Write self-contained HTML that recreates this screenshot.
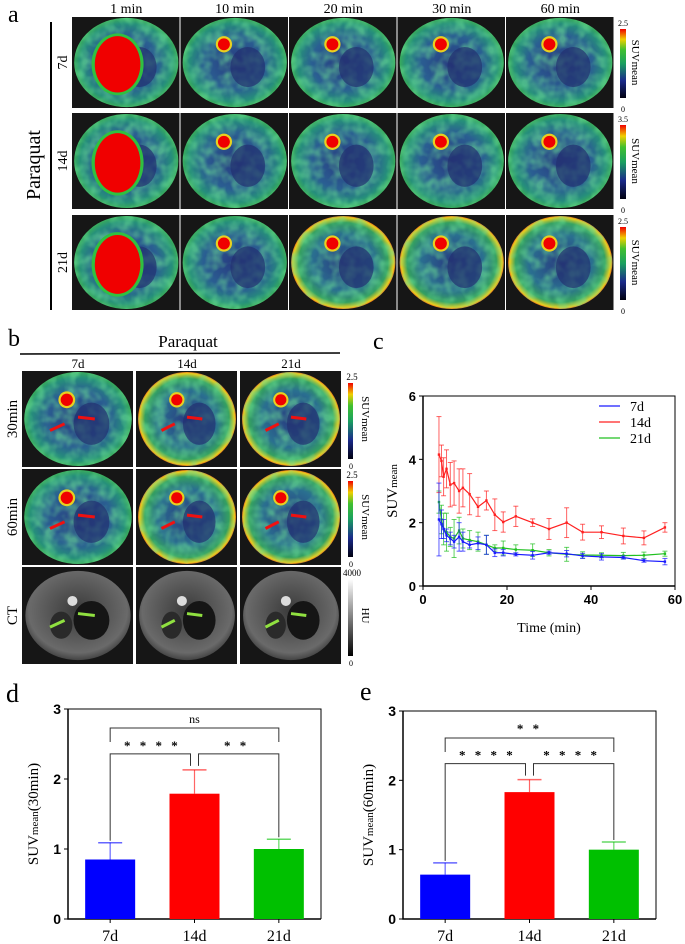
<!DOCTYPE html>
<html><head><meta charset="utf-8">
<style>
html,body{margin:0;padding:0;background:#fff;}
body{width:685px;height:944px;position:relative;overflow:hidden;font-family:"Liberation Serif",serif;}
svg{position:absolute;left:0;top:0;}
</style></head>
<body>
<svg id="fig" width="685" height="944" viewBox="0 0 685 944" xmlns="http://www.w3.org/2000/svg">
<defs>
<radialGradient id="pet" cx="50%" cy="50%" r="55%">
<stop offset="0%" stop-color="#283a80"/><stop offset="55%" stop-color="#2a5f92"/><stop offset="80%" stop-color="#26907a"/><stop offset="95%" stop-color="#3fb550"/><stop offset="100%" stop-color="#2a4f7a"/>
</radialGradient>
<radialGradient id="pethot" cx="50%" cy="50%" r="55%">
<stop offset="0%" stop-color="#283a80"/><stop offset="55%" stop-color="#2a6f90"/><stop offset="78%" stop-color="#34a060"/><stop offset="88%" stop-color="#e8d020"/><stop offset="94%" stop-color="#f01010"/><stop offset="100%" stop-color="#3a7a50"/>
</radialGradient>
<radialGradient id="ctg" cx="50%" cy="45%" r="55%">
<stop offset="0%" stop-color="#3a3a3a"/><stop offset="85%" stop-color="#6a6a6a"/><stop offset="100%" stop-color="#444"/>
</radialGradient>
<linearGradient id="cbar" x1="0" y1="1" x2="0" y2="0">
<stop offset="0%" stop-color="#000010"/><stop offset="25%" stop-color="#1a2a8a"/><stop offset="50%" stop-color="#1aa060"/><stop offset="70%" stop-color="#40c030"/><stop offset="85%" stop-color="#f0d000"/><stop offset="100%" stop-color="#f00000"/>
</linearGradient>
<linearGradient id="gbar" x1="0" y1="1" x2="0" y2="0">
<stop offset="0%" stop-color="#000"/><stop offset="100%" stop-color="#fff"/>
</linearGradient>
<filter id="noise" x="0" y="0" width="100%" height="100%">
<feTurbulence type="fractalNoise" baseFrequency="0.09" numOctaves="2" seed="3" result="t"/>
<feColorMatrix in="t" type="matrix" values="0 0 0 0 0.15  0 0 0 0 0.75  0 0 0 0 0.3  0 0 0 -2.2 1.45"/>
</filter>
</defs>
<g id="panelA">
<text x="8" y="22" font-size="24">a</text>
<line x1="51" y1="22" x2="51" y2="310" stroke="#000" stroke-width="2"/>
<text transform="translate(40,165) rotate(-90)" text-anchor="middle" font-size="20">Paraquat</text>
</g>
<g id="panelB">
<text x="8" y="346" font-size="24">b</text>
<text x="188" y="347" text-anchor="middle" font-size="17">Paraquat</text>
<line x1="20" y1="354" x2="340" y2="353" stroke="#000" stroke-width="1.5"/>
</g>
<g id="panelC">
<text x="373" y="349" font-size="24">c</text>
</g>
<g id="panelD">
<text x="6" y="702" font-size="26">d</text>
</g>
<g id="panelE">
<text x="360" y="700" font-size="26">e</text>
</g>
</svg>
<script>
const NS='http://www.w3.org/2000/svg';
const svg=document.getElementById('fig');
function mk(tag,attrs,parent){const e=document.createElementNS(NS,tag);for(const k in attrs)e.setAttribute(k,attrs[k]);(parent||svg).appendChild(e);return e;}
let clipId=0;

// ---------- Panel A: PET tiles ----------
const aCols=['1 min','10 min','20 min','30 min','60 min'];
const aRows=['7d','14d','21d'];
const aRowScale=['2.5','3.5','2.5'];
const gA=document.getElementById('panelA');
const aX0=72,aW=108.5,aY=[17,113,215],aH=[91,96,95];
aCols.forEach((c,i)=>{const t=mk('text',{x:aX0+aW*i+aW/2,y:13,'text-anchor':'middle','font-size':14},gA);t.textContent=c;

});
function tile(g,x,y,w,h,type,hot,blob,name){
 const grp=mk('g',{},g);
 
 
 mk('rect',{x:x,y:y,width:w-1,height:h,fill:'#161616'},grp);
 if(type==='ct'){
  mk('ellipse',{cx:x+w/2,cy:y+h*0.5,rx:w*0.47,ry:h*0.46,fill:'url(#ctg)'},grp);
  mk('ellipse',{cx:x+w*0.62,cy:y+h*0.55,rx:w*0.16,ry:h*0.2,fill:'#151515'},grp);
  mk('ellipse',{cx:x+w*0.35,cy:y+h*0.6,rx:w*0.1,ry:h*0.14,fill:'#2a2a2a'},grp);
  mk('circle',{cx:x+w*0.45,cy:y+h*0.35,r:5,fill:'#ddd'},grp);
  return grp;
 }
 const id='c'+(clipId++);
 const cp=mk('clipPath',{id:id},grp);
 mk('ellipse',{cx:x+w/2,cy:y+h*0.5,rx:w*0.48,ry:h*0.49},cp);
 mk('ellipse',{cx:x+w/2,cy:y+h*0.5,rx:w*0.48,ry:h*0.49,fill:hot?'url(#pethot)':'url(#pet)'},grp);
 mk('rect',{x:x,y:y,width:w,height:h,filter:'url(#noise)','clip-path':`url(#${id})`,opacity:0.55},grp);
 mk('ellipse',{cx:x+w*0.62,cy:y+h*0.55,rx:w*0.16,ry:h*0.22,fill:'#223070',opacity:0.7},grp);
 if(blob==='big'){
  mk('ellipse',{cx:x+w*0.42,cy:y+h*0.52,rx:w*0.24,ry:h*0.34,fill:'#30c040'},grp);
  mk('ellipse',{cx:x+w*0.42,cy:y+h*0.52,rx:w*0.21,ry:h*0.31,fill:'#f00000'},grp);
 }else{
  mk('circle',{cx:x+w*0.4,cy:y+h*0.3,r:w*0.075,fill:'#e8d020'},grp);
  mk('circle',{cx:x+w*0.4,cy:y+h*0.3,r:w*0.055,fill:'#f00000'},grp);
 }
 return grp;
}
aRows.forEach((r,ri)=>{
 const t=mk('text',{transform:`translate(67,${aY[ri]+aH[ri]/2}) rotate(-90)`,'text-anchor':'middle','font-size':14},gA);t.textContent=r;
 
 
 aCols.forEach((c,ci)=>{
  tile(gA,aX0+aW*ci,aY[ri],aW,aH[ri],'pet',ri===2&&ci>=2,ci===0?'big':'small','pet-tile-'+r+'-'+ci);
 });
 const cb=mk('rect',{x:620,y:aY[ri]+12,width:6,height:aH[ri]-22,fill:'url(#cbar)'},gA);
 
 
 const top=mk('text',{x:623,y:aY[ri]+9,'text-anchor':'middle','font-size':8},gA);top.textContent=aRowScale[ri];
 const bot=mk('text',{x:623,y:aY[ri]+aH[ri]+4,'text-anchor':'middle','font-size':8},gA);bot.textContent='0';
 const lab=mk('text',{transform:`translate(632,${aY[ri]+aH[ri]/2}) rotate(90)`,'text-anchor':'middle','font-size':11},gA);lab.textContent='SUVmean';
 
 
});

// ---------- Panel B ----------
const gB=document.getElementById('panelB');
const bCols=['7d','14d','21d'];
const bRows=['30min','60min','CT'];
const bX=[22,136,240],bW=[112,102,102],bY=[371,469,567],bH=[96,96,97];
bCols.forEach((c,i)=>{const t=mk('text',{x:bX[i]+bW[i]/2,y:368,'text-anchor':'middle','font-size':13},gB);t.textContent=c;

});
bRows.forEach((r,ri)=>{
 const t=mk('text',{transform:`translate(17,${bY[ri]+bH[ri]/2}) rotate(-90)`,'text-anchor':'middle','font-size':15},gB);t.textContent=r;
 
 
 bCols.forEach((c,ci)=>{
  tile(gB,bX[ci],bY[ri],bW[ci],bH[ri],ri===2?'ct':'pet',ci>0,'small','b-tile-'+r+'-'+c);
  const arrowCol=ri===2?'#90e040':'#f01010';
  mk('line',{x1:bX[ci]+bW[ci]*0.25,y1:bY[ri]+bH[ri]*0.62,x2:bX[ci]+bW[ci]*0.38,y2:bY[ri]+bH[ri]*0.55,stroke:arrowCol,'stroke-width':3},gB);
  mk('line',{x1:bX[ci]+bW[ci]*0.65,y1:bY[ri]+bH[ri]*0.5,x2:bX[ci]+bW[ci]*0.5,y2:bY[ri]+bH[ri]*0.48,stroke:arrowCol,'stroke-width':3},gB);
 });
 const cb=mk('rect',{x:348,y:bY[ri]+12,width:5,height:bH[ri]-20,fill:ri===2?'url(#gbar)':'url(#cbar)'},gB);
 
 
 const top=mk('text',{x:352,y:bY[ri]+9,'text-anchor':'middle','font-size':9},gB);top.textContent=ri===2?'4000':'2.5';
 const bot=mk('text',{x:351,y:bY[ri]+bH[ri]+2,'text-anchor':'middle','font-size':8},gB);bot.textContent='0';
 const lab=mk('text',{transform:`translate(362,${bY[ri]+bH[ri]/2}) rotate(90)`,'text-anchor':'middle','font-size':11},gB);lab.textContent=ri===2?'HU':'SUVmean';
});

// ---------- Panel C: time curves ----------
const times=[3.8,4.4,4.9,5.6,6.5,7.4,8.6,9.5,11.1,13.1,15.1,17.1,19.1,22.1,26.1,30,34.2,38,42.5,47.7,52.6,57.6];
const d7=[2.1,1.95,1.8,1.6,1.5,1.4,1.55,1.4,1.3,1.35,1.3,1.05,1.05,1.0,0.97,1.05,1.02,0.95,0.92,0.9,0.8,0.77];
const d7sd=[1.15,0.45,0.3,0.2,0.2,0.2,0.45,0.3,0.1,0.2,0.3,0.12,0.1,0.05,0.12,0.05,0.1,0.08,0.1,0.05,0.05,0.1];
const d14=[4.15,3.95,3.45,3.7,3.2,3.25,3.0,3.1,2.9,2.5,2.7,2.25,2.02,2.2,2.0,1.8,2.0,1.7,1.7,1.58,1.52,1.85];
const d14sd=[1.2,0.5,0.6,0.6,0.7,0.7,0.7,0.6,0.65,0.3,0.3,0.5,0.32,0.32,0.12,0.33,0.47,0.25,0.2,0.25,0.22,0.15];
const d21=[2.65,2.1,1.8,1.7,1.55,1.5,1.75,1.5,1.45,1.4,1.3,1.2,1.2,1.15,1.13,1.05,1.0,0.98,0.97,0.96,0.97,1.02];
const d21sd=[0.35,0.45,0.5,0.6,0.3,0.6,0.42,0.3,0.3,0.3,0.3,0.1,0.22,0.15,0.2,0.1,0.22,0.1,0.08,0.1,0.1,0.08];
const cXTicks=[0,20,40,60];
const cYTicks=[0,2,4,6];
const gC=document.getElementById('panelC');
const cx0=423,cx1=675,cy0=586,cy1=396;
const cX=v=>cx0+(v-0)/60*(cx1-cx0);
const cY=v=>cy0-(v/6)*(cy0-cy1);
mk('path',{d:`M${cx0},${cy1}H${cx1}V${cy0}`,fill:'none',stroke:'#000','stroke-width':1},gC);
const cax=mk('path',{d:`M${cx0},${cy1}V${cy0}H${cx1}`,fill:'none',stroke:'#000','stroke-width':1.5},gC);


cXTicks.forEach(t=>{mk('line',{x1:cX(t),y1:cy0,x2:cX(t),y2:cy0+4,stroke:'#000'},gC);
 const e=mk('text',{x:cX(t),y:cy0+18,'text-anchor':'middle','font-size':13,'font-weight':'bold','font-family':'Liberation Sans, sans-serif'},gC);e.textContent=t;
 
 });
cYTicks.forEach(t=>{mk('line',{x1:cx0-4,y1:cY(t),x2:cx0,y2:cY(t),stroke:'#000'},gC);
 const e=mk('text',{x:cx0-7,y:cY(t)+5,'text-anchor':'end','font-size':13,'font-weight':'bold','font-family':'Liberation Sans, sans-serif'},gC);e.textContent=t;
 
 });
const cyt=mk('text',{transform:`translate(${cx0-26},${(cy0+cy1)/2}) rotate(-90)`,'text-anchor':'middle','font-size':15},gC);
cyt.innerHTML='SUV<tspan font-size="11">mean</tspan>';


const cxt=mk('text',{x:(cx0+cx1)/2,y:632,'text-anchor':'middle','font-size':14},gC);cxt.textContent='Time (min)';


const series=[{n:'7d',v:d7,s:d7sd,c:'#1a1aff'},{n:'14d',v:d14,s:d14sd,c:'#ff2020'},{n:'21d',v:d21,s:d21sd,c:'#20c020'}];
const order=[series[2],series[1],series[0]];
order.forEach(se=>{
 const g=mk('g',{},gC);
 
 
 se.v.forEach((v,i)=>{
  const x=cX(times[i]);
  mk('line',{x1:x,y1:cY(v-se.s[i]),x2:x,y2:cY(v+se.s[i]),stroke:se.c,'stroke-width':1,opacity:0.7},g);
  mk('line',{x1:x-2.5,y1:cY(v+se.s[i]),x2:x+2.5,y2:cY(v+se.s[i]),stroke:se.c,opacity:0.7},g);
  mk('line',{x1:x-2.5,y1:cY(v-se.s[i]),x2:x+2.5,y2:cY(v-se.s[i]),stroke:se.c,opacity:0.7},g);
 });
 mk('polyline',{points:se.v.map((v,i)=>cX(times[i])+','+cY(v)).join(' '),fill:'none',stroke:se.c,'stroke-width':1.2},g);
 se.v.forEach((v,i)=>mk('rect',{x:cX(times[i])-1.2,y:cY(v)-1.2,width:2.4,height:2.4,fill:se.c},g));
});
series.forEach((se,i)=>{
 const y=406+i*16;
 const l=mk('line',{x1:599,y1:y,x2:620,y2:y,stroke:se.c,'stroke-width':1.2},gC);
 
 
 const t=mk('text',{x:630,y:y+5,'font-size':14},gC);t.textContent=se.n;
 
 
});

// ---------- Panels D and E: bar charts ----------
const barCats=['7d','14d','21d'];
const bar30=[0.85,1.79,1.0];
const bar30err=[0.24,0.34,0.14];
const bar60=[0.64,1.83,1.0];
const bar60err=[0.17,0.18,0.11];
const barTicks=[0,1,2,3];
const barColors=['#0000ff','#ff0000','#00c000'];
function barChart(g,x0,x1,y0,y1,vals,errs,title,sig,pfx){
 const Y=v=>y0-v/3*(y0-y1);
 const slot=(x1-x0)/3;
 const X=i=>x0+slot*(i+0.5);
 const bw=50;
 mk('path',{d:`M${x0},${y1}H${x1}V${y0}`,fill:'none',stroke:'#000','stroke-width':1},g);
 const ax=mk('path',{d:`M${x0},${y1}V${y0}H${x1}`,fill:'none',stroke:'#000','stroke-width':1.5},g);
 
 
 barTicks.forEach(t=>{mk('line',{x1:x0-4,y1:Y(t),x2:x0,y2:Y(t),stroke:'#000'},g);
  const e=mk('text',{x:x0-7,y:Y(t)+5,'text-anchor':'end','font-size':14,'font-weight':'bold','font-family':'Liberation Sans, sans-serif'},g);e.textContent=t;
  
  });
 vals.forEach((v,i)=>{
  const x=X(i);
  mk('line',{x1:x,y1:Y(v),x2:x,y2:Y(v+errs[i]),stroke:barColors[i],'stroke-width':1.2,opacity:0.6},g);
  mk('line',{x1:x-12,y1:Y(v+errs[i]),x2:x+12,y2:Y(v+errs[i]),stroke:barColors[i],'stroke-width':1.5,opacity:0.6},g);
  const r=mk('rect',{x:x-bw/2,y:Y(v),width:bw,height:Y(0)-Y(v),fill:barColors[i]},g);
  
  
  mk('line',{x1:x,y1:y0,x2:x,y2:y0+4,stroke:'#000'},g);
  const t=mk('text',{x:x,y:y0+22,'text-anchor':'middle','font-size':16},g);t.textContent=barCats[i];
  
  
 });
 const yt=mk('text',{transform:`translate(${x0-30},${(y0+y1)/2}) rotate(-90)`,'text-anchor':'middle','font-size':15},g);
 yt.innerHTML='SUV<tspan font-size="11">mean</tspan>('+title+')';
 
 
 // brackets
 const bt=errs.map((e,i)=>Y(vals[i]+e));
 const lowY=bt[1]-16, hiY=sig.yTop;
 const br=mk('g',{stroke:'#333','stroke-width':1,fill:'none'},g);
 
 
 mk('path',{d:`M${X(0)},${bt[0]-2}V${lowY}H${X(1)-4}V${bt[1]-4}`},br);
 mk('path',{d:`M${X(1)+4},${bt[1]-4}V${lowY}H${X(2)}V${bt[2]-2}`},br);
 mk('path',{d:`M${X(0)},${hiY+14}V${hiY}H${X(2)}V${hiY+14}`},br);
 const s1=mk('text',{x:(X(0)+X(1))/2,y:lowY-4,'text-anchor':'middle','font-size':13,'font-weight':'bold','letter-spacing':3},g);s1.textContent=sig.a;
 const s2=mk('text',{x:(X(1)+X(2))/2,y:lowY-4,'text-anchor':'middle','font-size':13,'font-weight':'bold','letter-spacing':3},g);s2.textContent=sig.b;
 const s3=mk('text',{x:(X(0)+X(2))/2,y:hiY-5,'text-anchor':'middle','font-size':sig.c==='ns'?12:13,'font-weight':sig.c==='ns'?'normal':'bold','letter-spacing':sig.c==='ns'?0:3},g);s3.textContent=sig.c;
}
barChart(document.getElementById('panelD'),68,321,919,709,bar30,bar30err,'30min',{a:'* * * *',b:'* *',c:'ns',yTop:728},'d');
barChart(document.getElementById('panelE'),403,656,919,711,bar60,bar60err,'60min',{a:'* * * *',b:'* * * *',c:'* *',yTop:738},'e');
</script>
</body></html>
